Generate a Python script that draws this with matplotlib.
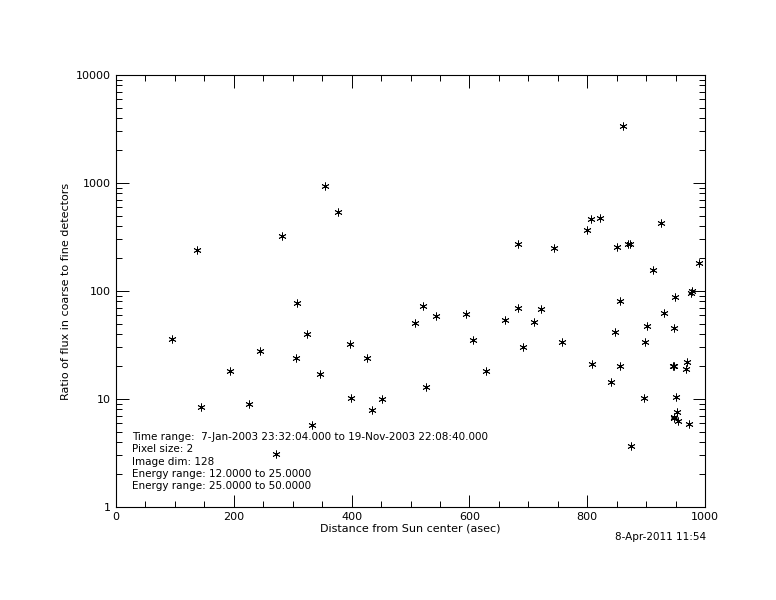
import matplotlib
matplotlib.use('Agg')
import matplotlib.pyplot as plt
from matplotlib.ticker import MultipleLocator, LogLocator, FixedFormatter, FixedLocator

# distance from sun center (asec) and flux ratio
distance = [95, 138, 145, 193, 225, 245, 272, 281, 306, 307, 325, 332, 346, 355, 377,
            398, 399, 426, 434, 451, 507, 522, 526, 543, 594, 606, 629, 660, 682, 683,
            691, 709, 721, 744, 758, 800, 806, 808, 821, 840, 848, 851, 855, 855, 860,
            870, 872, 875, 897, 898, 901, 912, 925, 930, 945, 947, 948, 949, 947, 948,
            950, 953, 955, 967, 970, 972, 976, 978, 990]
ratio = [36, 240, 8.5, 18, 9, 28, 3.1, 320, 24, 78, 40, 5.8, 17, 930, 540,
         32, 10.3, 24, 7.9, 9.9, 51, 73, 13, 59, 61, 35, 18, 54, 270, 70,
         30, 52, 68, 250, 34, 370, 460, 21, 470, 14.5, 42, 255, 80, 20, 3400,
         270, 275, 3.7, 10.3, 34, 47, 155, 430, 62, 20, 20, 45, 88, 6.8, 6.6,
         10.5, 7.5, 6.2, 19, 22, 5.9, 95, 100, 180]

info_lines = ["Time range:  7-Jan-2003 23:32:04.000 to 19-Nov-2003 22:08:40.000",
              "Pixel size: 2",
              "Image dim: 128",
              "Energy range: 12.0000 to 25.0000",
              "Energy range: 25.0000 to 50.0000"]

fig = plt.figure(figsize=(7.76, 6), dpi=100)
ax = fig.add_axes([0.1495, 0.155, 0.759, 0.72])
ax.scatter(distance, ratio, marker=(6, 2, 0), s=28, color='black', linewidths=0.6)
ax.set_yscale('log')
ax.set_xlim(0, 1000)
ax.set_ylim(1, 10000)
ax.xaxis.set_major_locator(MultipleLocator(200))
ax.xaxis.set_minor_locator(MultipleLocator(50))
ax.yaxis.set_major_locator(FixedLocator([1, 10, 100, 1000, 10000]))
ax.yaxis.set_major_formatter(FixedFormatter(['1', '10', '100', '1000', '10000']))
ax.yaxis.set_minor_locator(LogLocator(subs=range(2, 10)))
ax.yaxis.set_minor_formatter(FixedFormatter([]))
ax.tick_params(which='both', direction='in', top=True, right=True, labelsize=8)
ax.tick_params(which='major', length=9, width=0.7)
ax.tick_params(which='minor', length=4, width=0.7)
for s in ax.spines.values():
    s.set_linewidth(0.8)
ax.set_xlabel('Distance from Sun center (asec)', fontsize=8, labelpad=1)
ax.set_ylabel('Ratio of flux in coarse to fine detectors', fontsize=8)

for i, line in enumerate(info_lines):
    ax.text(0.027, 0.155 - i * 0.0285, line, transform=ax.transAxes, fontsize=7.5)

fig.text(0.91, 0.1, '8-Apr-2011 11:54', ha='right', fontsize=7.5)
fig.savefig('out.png', dpi=100)
